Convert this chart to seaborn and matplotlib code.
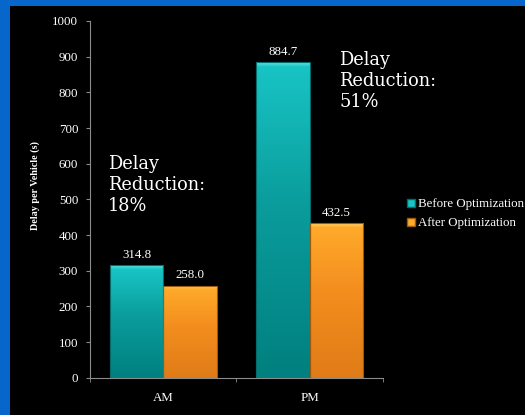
import numpy as np
import pandas as pd
import matplotlib
matplotlib.use("Agg")
import matplotlib.pyplot as plt
from matplotlib.patches import Rectangle, Patch
from matplotlib.colors import LinearSegmentedColormap
import seaborn as sns

periods = ["AM", "PM"]
before_opt = [314.8, 884.7]
after_opt = [258.0, 432.5]
series_names = ["Before Optimization", "After Optimization"]
reductions = ["18%", "51%"]

teal = "#0AA8A8"
orange = "#F7961F"

df = pd.DataFrame({
    "period": periods * 2,
    "delay": before_opt + after_opt,
    "scenario": [series_names[0]] * 2 + [series_names[1]] * 2,
})

plt.rcParams["font.family"] = ["Liberation Serif", "DejaVu Serif"]
text_col = "white"
axis_col = "#8C8C8C"

fig = plt.figure(figsize=(5.25, 4.15), dpi=100)
fig.patch.set_facecolor("black")
ax = fig.add_axes([0.1714, 0.0899, 0.5581, 0.8595])
ax.set_facecolor("black")

sns.barplot(data=df, x="period", y="delay", hue="scenario",
            palette=[teal, orange], width=0.73, ax=ax, legend=False,
            edgecolor="none")

# gradient fill for each bar, clipped to the bar
grads = {
    0: ["#5FE3E3", "#18C4C4", "#0B9C9C", "#00807F"],
    1: ["#FFD46A", "#FFAA2A", "#F38D1E", "#E07C18"],
}
edges = {0: "#046A6A", 1: "#9A5A10"}
n_per = len(periods)
for i, bar in enumerate(ax.patches):
    k = i // n_per
    x0, y0 = bar.get_x(), bar.get_y()
    w, h = bar.get_width(), bar.get_height()
    px = h * 0.3567
    bevel = min(4.0 / px, 0.2)
    cmap = LinearSegmentedColormap.from_list(
        "g", [(0, grads[k][0]), (bevel, grads[k][1]), (0.45, grads[k][2]), (1, grads[k][3])])
    grad = np.linspace(0, 1, 256).reshape(-1, 1)
    im = ax.imshow(grad, cmap=cmap, aspect="auto", extent=[x0, x0 + w, y0, y0 + h],
                   origin="upper", zorder=bar.get_zorder() + 0.1)
    im.set_clip_path(bar)
    bar.set_edgecolor(edges[k])
    bar.set_linewidth(0.8)
    bar.set_zorder(bar.get_zorder() + 0.2)
    bar.set_facecolor("none")

for cont in ax.containers:
    ax.bar_label(cont, fmt="%.1f", padding=3, color=text_col, fontsize=9.3)

ax.set_xlim(-0.5, 1.5)
ax.set_ylim(0, 1000)
ax.set_yticks(np.arange(0, 1001, 100))
ax.set_xticks([-0.5, 0.5, 1.5], minor=True)
ax.tick_params(axis="x", which="major", length=0, pad=10, labelsize=9.3, colors=text_col)
ax.tick_params(axis="x", which="minor", length=3, color=axis_col, direction="out")
ax.tick_params(axis="y", length=3, pad=5.5, labelsize=9.3, labelcolor=text_col, color=axis_col)
for s in ["top", "right"]:
    ax.spines[s].set_visible(False)
for s in ["left", "bottom"]:
    ax.spines[s].set_color(axis_col)
    ax.spines[s].set_linewidth(0.8)
ax.set_xlabel("")
ax.set_ylabel("")
fig.text(0.0667, 0.554, "Delay per Vehicle (s)", rotation=90, ha="center", va="center",
         fontsize=7.3, fontweight="bold", color=text_col)

# delay reduction notes
ax.text(-0.378, 624, "Delay\nReduction:\n" + reductions[0], ha="left", va="top",
        fontsize=12.8, family="DejaVu Serif", color=text_col, linespacing=1.2)
ax.text(1.201, 916, "Delay\nReduction:\n" + reductions[1], ha="left", va="top",
        fontsize=12.8, family="DejaVu Serif", color=text_col, linespacing=1.2)

handles = [Patch(facecolor=grads[0][1], edgecolor=edges[0], label=series_names[0]),
           Patch(facecolor=grads[1][1], edgecolor=edges[1], label=series_names[1])]
leg = fig.legend(handles=handles, loc="center left", bbox_to_anchor=(0.765, 0.485),
                 frameon=False, fontsize=9.3, handlelength=0.6, handleheight=0.6,
                 handletextpad=0.3, labelspacing=0.55, borderaxespad=0)
for t in leg.get_texts():
    t.set_color(text_col)

# blue slide border on left and top
blue = "#0666CC"
fig.patches.append(Rectangle((0, 0), 10 / 525, 1, transform=fig.transFigure,
                             facecolor=blue, edgecolor="none", zorder=-5))
fig.patches.append(Rectangle((0, 1 - 6 / 415), 1, 6 / 415, transform=fig.transFigure,
                             facecolor=blue, edgecolor="none", zorder=-5))

fig.savefig("out.png", dpi=100, facecolor=fig.get_facecolor())
